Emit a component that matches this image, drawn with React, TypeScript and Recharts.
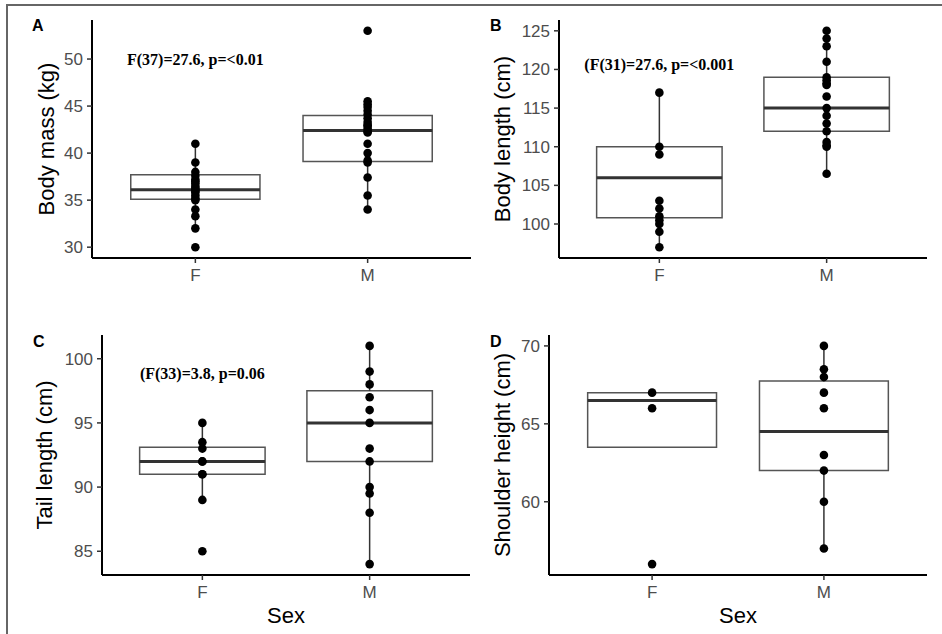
import React from "react";
import {
  ComposedChart,
  Scatter,
  XAxis,
  YAxis,
  ReferenceArea,
  ReferenceLine,
  ReferenceDot,
} from "recharts";

const SEXES = ["F", "M"];

// box stats per sex: [lower whisker, q1, median, q3, upper whisker]
const MASS_F = [41, 39, 38, 37.6, 37.2, 37, 36.8, 36.5, 36.3, 36.1, 36, 35.8, 35.5, 35.2, 35, 34, 33.3, 32, 30];
const MASS_M = [53, 45.5, 45.2, 44.9, 44.5, 44.1, 43.7, 43.3, 43, 42.9, 42.6, 42.3, 42.2, 41, 40, 39.2, 39, 37.4, 35.5, 34];
const MASS_BOX = [
  [32, 35.1, 36.1, 37.7, 41],
  [34, 39.1, 42.4, 44.0, 45.5],
];
const MASS_TICKS = [30, 35, 40, 45, 50];

const LENGTH_F = [117, 110, 109, 103, 102, 101, 100.5, 100, 99, 97];
const LENGTH_M = [125, 124, 123, 121, 119, 118.6, 118.2, 118, 116.5, 115, 114, 113, 112, 110.6, 110.2, 110, 106.5];
const LENGTH_BOX = [
  [97, 100.8, 106, 110, 117],
  [106.5, 112, 115, 119, 125],
];
const LENGTH_TICKS = [100, 105, 110, 115, 120, 125];

const TAIL_F = [95, 93.5, 93, 92, 92, 91, 91, 89, 85];
const TAIL_M = [101, 99, 98, 97, 96, 95, 93, 92, 90, 89.5, 88, 84];
const TAIL_BOX = [
  [89, 91, 92, 93.1, 95],
  [84, 92, 95, 97.5, 101],
];
const TAIL_TICKS = [85, 90, 95, 100];

const SHOULDER_F = [67, 66, 56];
const SHOULDER_M = [70, 68.5, 68, 67, 66, 63, 62, 60, 57];
const SHOULDER_BOX = [
  [63.5, 63.5, 66.5, 67, 67],
  [57, 62, 64.5, 67.75, 70],
];
const SHOULDER_TICKS = [60, 65, 70];

const PANELS = [
  {
    letter: "A", left: 0, top: 0, width: 480, height: 300, letterX: 32, letterY: 31,
    margin: { top: 20, right: 9, bottom: 0, left: 0 }, yWidth: 92, xHeight: 42, titleDx: 46,
    title: "Body mass (kg)", f: MASS_F, m: MASS_M, box: MASS_BOX, ticks: MASS_TICKS,
    note: "F(37)=27.6, p=<0.01", noteY: 50, sex: false,
  },
  {
    letter: "B", left: 470, top: 0, width: 470, height: 300, letterX: 490, letterY: 31,
    margin: { top: 20, right: 13, bottom: 0, left: 0 }, yWidth: 89, xHeight: 42, titleDx: 32,
    title: "Body length (cm)", f: LENGTH_F, m: LENGTH_M, box: LENGTH_BOX, ticks: LENGTH_TICKS,
    note: "(F(31)=27.6, p=<0.001", noteY: 120.6, sex: false,
  },
  {
    letter: "C", left: 0, top: 300, width: 480, height: 334, letterX: 33, letterY: 347,
    margin: { top: 35, right: 10, bottom: 0, left: 0 }, yWidth: 102, xHeight: 59, titleDx: 44,
    title: "Tail length (cm)", f: TAIL_F, m: TAIL_M, box: TAIL_BOX, ticks: TAIL_TICKS,
    note: "(F(33)=3.8, p=0.06", noteY: 98.9, sex: true,
  },
  {
    letter: "D", left: 470, top: 300, width: 470, height: 334, letterX: 490, letterY: 347,
    margin: { top: 35, right: 13, bottom: 0, left: 0 }, yWidth: 79, xHeight: 59, titleDx: 32,
    title: "Shoulder height (cm)", f: SHOULDER_F, m: SHOULDER_M, box: SHOULDER_BOX, ticks: SHOULDER_TICKS,
    note: "", noteY: 0, sex: true,
  },
];

const FONT = "'Liberation Sans', Arial, sans-serif";
const TICK = { fill: "#4d4d4d", fontSize: 17, fontFamily: FONT };
const BOX_HALF = 0.375;

const yTitle = (text: string, dx: number) => (props: any) => {
  const vb = props.viewBox;
  const cx = vb.x + dx;
  const cy = vb.y + vb.height / 2;
  return (
    <text x={cx} y={cy} transform={`rotate(-90 ${cx} ${cy})`} textAnchor="middle"
      dominantBaseline="central" fontSize={22} fontFamily={FONT} fill="#000">
      {text}
    </text>
  );
};

const xTitle = (props: any) => {
  const vb = props.viewBox;
  return (
    <text x={vb.x + vb.width / 2} y={vb.y + 40} textAnchor="middle" dominantBaseline="central"
      fontSize={22} fontFamily={FONT} fill="#000">
      Sex
    </text>
  );
};

const dot = (p: any) => <circle cx={p.cx} cy={p.cy} r={4.3} fill="#000" />;

function Panel({ cfg }: { cfg: (typeof PANELS)[number] }) {
  const all = [...cfg.f, ...cfg.m];
  const lo = Math.min(...all);
  const hi = Math.max(...all);
  const pad = (hi - lo) * 0.05;
  const points = [
    ...cfg.f.map((y) => ({ x: 1, y })),
    ...cfg.m.map((y) => ({ x: 2, y })),
  ];

  return (
    <div style={{ position: "absolute", left: cfg.left, top: cfg.top }}>
      <ComposedChart width={cfg.width} height={cfg.height} margin={cfg.margin}>
        <XAxis
          type="number"
          dataKey="x"
          domain={[0.4, 2.6]}
          ticks={[1, 2]}
          tickFormatter={(v: number) => SEXES[v - 1]}
          tick={TICK}
          tickSize={5}
          tickMargin={6}
          height={cfg.xHeight}
          stroke="#000"
          strokeWidth={2}
          tickLine={{ stroke: "#333", strokeWidth: 1.5 }}
          label={cfg.sex ? xTitle : undefined}
        />
        <YAxis
          type="number"
          dataKey="y"
          domain={[lo - pad, hi + pad]}
          ticks={cfg.ticks}
          tick={TICK}
          tickSize={5}
          tickMargin={4}
          width={cfg.yWidth}
          stroke="#000"
          strokeWidth={2}
          tickLine={{ stroke: "#333", strokeWidth: 1.5 }}
          label={yTitle(cfg.title, cfg.titleDx)}
        />
        {cfg.box.map((b, i) => (
          <ReferenceLine key={`wl${i}`} segment={[{ x: i + 1, y: b[0] }, { x: i + 1, y: b[1] }]}
            stroke="#333" strokeWidth={1.5} />
        ))}
        {cfg.box.map((b, i) => (
          <ReferenceLine key={`wh${i}`} segment={[{ x: i + 1, y: b[3] }, { x: i + 1, y: b[4] }]}
            stroke="#333" strokeWidth={1.5} />
        ))}
        {cfg.box.map((b, i) => (
          <ReferenceArea key={`b${i}`} x1={i + 1 - BOX_HALF} x2={i + 1 + BOX_HALF} y1={b[1]} y2={b[3]}
            fill="#fff" fillOpacity={1} stroke="#555" strokeWidth={1.5} />
        ))}
        {cfg.box.map((b, i) => (
          <ReferenceLine key={`m${i}`}
            segment={[{ x: i + 1 - BOX_HALF, y: b[2] }, { x: i + 1 + BOX_HALF, y: b[2] }]}
            stroke="#333" strokeWidth={3} />
        ))}
        <Scatter data={points} shape={dot} isAnimationActive={false} />
        {cfg.note && (
          <ReferenceDot x={1} y={cfg.noteY} r={1} fill="none" stroke="none"
            label={{
              value: cfg.note, position: "center", fill: "#000", fontSize: 16,
              fontWeight: "bold", fontFamily: "'Liberation Serif', 'Times New Roman', serif",
            }} />
        )}
      </ComposedChart>
    </div>
  );
}

export default function App() {
  return (
    <div style={{ position: "absolute", left: 0, top: 0, width: 942, height: 634, background: "#fff" }}>
      {PANELS.map((p) => (
        <Panel key={p.letter} cfg={p} />
      ))}
      <svg width={942} height={634} style={{ position: "absolute", left: 0, top: 0, pointerEvents: "none" }}>
        <line x1={6} y1={5} x2={942} y2={5} stroke="#666" strokeWidth={2} />
        <line x1={7} y1={4} x2={7} y2={634} stroke="#666" strokeWidth={2} />
        {PANELS.map((p) => (
          <text key={p.letter} x={p.letterX} y={p.letterY} fontSize={16}
            fontWeight="bold" fontFamily={FONT} fill="#000">
            {p.letter}
          </text>
        ))}
      </svg>
    </div>
  );
}
